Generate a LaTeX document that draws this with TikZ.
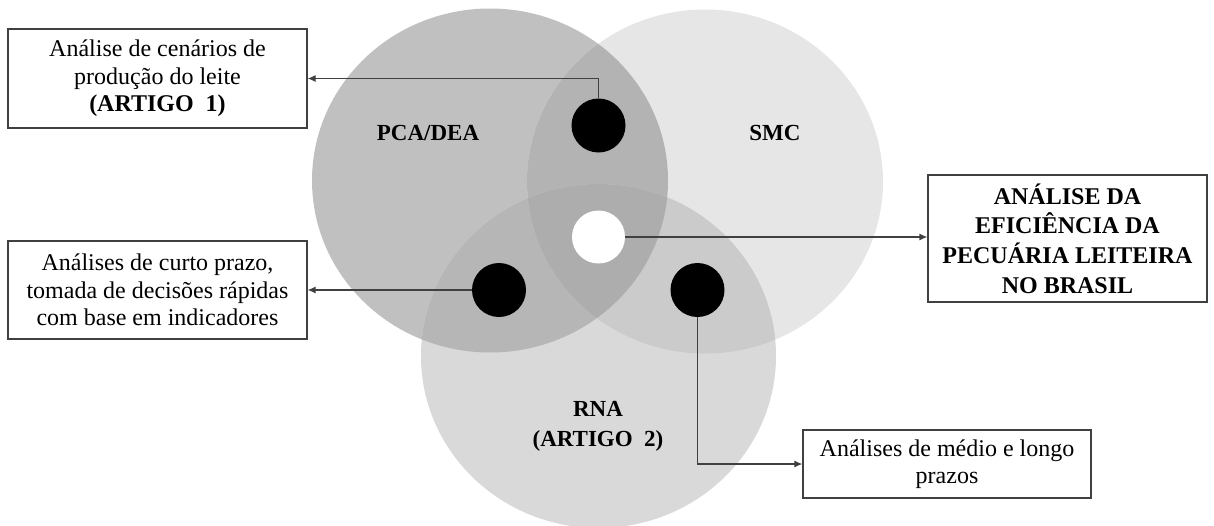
\documentclass[tikz,border=0pt]{standalone}
\usepackage{fontspec}
\setmainfont{Liberation Serif}
\usetikzlibrary{arrows.meta}

% region colours of the three overlapping sets
\definecolor{cP}{HTML}{C0C0C0}
\definecolor{cS}{HTML}{E6E6E6}
\definecolor{cR}{HTML}{D9D9D9}
\definecolor{cPS}{HTML}{B3B3B3}
\definecolor{cPR}{HTML}{B6B6B6}
\definecolor{cSR}{HTML}{CBCBCB}
\definecolor{cPSR}{HTML}{ADADAD}
\definecolor{linec}{HTML}{404040}

\tikzset{
  infobox/.style={draw=linec, line width=1.2pt, fill=white, inner sep=0pt,
    font=\fontsize{24}{27.5}\selectfont, align=center},
  dot/.style={circle, fill=black, minimum size=54pt, inner sep=0pt},
  hole/.style={circle, fill=white, minimum size=53pt, inner sep=0pt},
  conn/.style={draw=linec, line width=1.2pt, -{Latex[length=8pt,width=7pt]}},
  setlabel/.style={font=\fontsize{23}{30}\selectfont\bfseries, align=center, inner sep=0pt}
}

\def\pcaset{(490,180.5) ellipse [x radius=178pt, y radius=172pt]}
\def\smcset{(705,181.5) ellipse [x radius=178pt, y radius=172pt]}
\def\rnaset{(598.5,356) ellipse [x radius=177.5pt, y radius=172pt]}

\begin{document}
\begin{tikzpicture}[x=1pt, y=-1pt]
\useasboundingbox (0,0) rectangle (1214,525);

\begin{scope}
  \clip (0,0) rectangle (1214,525);
  % single sets
  \fill[cP] \pcaset;
  \fill[cS] \smcset;
  \fill[cR] \rnaset;
  % pairwise overlaps
  \begin{scope}
    \clip \pcaset;
    \fill[cPS] \smcset;
    \fill[cPR] \rnaset;
  \end{scope}
  \begin{scope}
    \clip \smcset;
    \fill[cSR] \rnaset;
  \end{scope}
  % common core
  \begin{scope}
    \clip \pcaset;
    \clip \smcset;
    \fill[cPSR] \rnaset;
  \end{scope}
\end{scope}

% set names
\node[setlabel] (lpca) at (428,133) {PCA/DEA};
\node[setlabel] (lsmc) at (775,133) {SMC};
\node[setlabel] (lrna) at (598,426) {RNA\\(ARTIGO\ \ 2)};

% markers in the overlaps
\node[dot]  (dtop)   at (598.5,125.5) {};
\node[dot]  (dleft)  at (499,290) {};
\node[dot]  (dright) at (697.5,290) {};
\node[hole] (dcore)  at (598.5,237) {};

% outcome boxes
\node[infobox, minimum width=299pt, minimum height=99pt] (bcen) at (157.5,78.5)
  {Análise de cenários de\\produção do leite\\\textbf{(ARTIGO\ \ 1)}};
\node[infobox, minimum width=299pt, minimum height=98pt] (bcur) at (157.5,290)
  {Análises de curto prazo,\\tomada de decisões rápidas\\com base em indicadores};
\node[infobox, minimum width=279pt, minimum height=127pt,
      font=\fontsize{24}{29.7}\selectfont\bfseries] (beff) at (1067.5,238.5)
  {ANÁLISE DA\\EFICIÊNCIA DA\\PECUÁRIA LEITEIRA\\NO BRASIL};
\node[infobox, minimum width=288pt, minimum height=68pt] (bmed) at (947,464)
  {Análises de médio e longo\\prazos};

% connectors
\draw[conn] (dtop.north) |- (bcen.east);
\draw[conn] (dleft.west) -- (bcur.east);
\draw[conn] (dcore.east) -- (dcore.east -| beff.west);
\draw[conn] (dright.south) |- (bmed.west);
\end{tikzpicture}
\end{document}
